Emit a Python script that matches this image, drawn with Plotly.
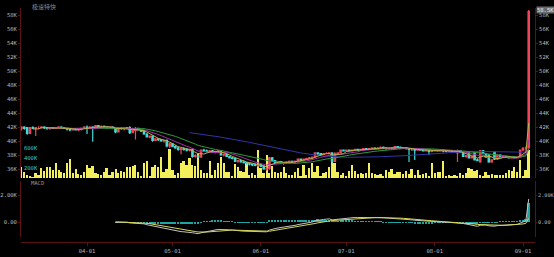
import pandas as pd
import numpy as np
import plotly.graph_objects as go

# ---------------- data (prices in K) ----------------
dates = pd.date_range("2023-03-09", periods=179, freq="D")

open_ = [41.8,42.0,41.9,41.1,41.9,41.8,41.9,41.9,42.0,41.9,
         41.8,41.9,41.8,41.9,42.0,41.9,41.8,41.7,41.6,41.7,
         41.6,41.7,41.8,42.0,41.9,42.0,41.8,42.2,42.0,42.1,
         42.0,41.9,42.0,41.9,41.3,41.9,41.8,41.9,41.9,41.2,
         41.5,41.8,41.6,41.4,41.0,40.6,40.7,40.1,40.3,40.2,
         40.0,40.1,39.3,39.6,39.2,39.0,38.8,38.9,38.8,38.7,
         38.8,37.8,37.9,37.7,38.7,38.6,38.5,38.6,38.4,38.5,
         38.6,38.0,38.1,37.8,37.6,37.5,37.1,37.2,37.0,36.9,
         36.8,36.7,36.6,36.5,36.6,36.4,36.0,36.1,37.6,37.2,
         36.9,37.0,36.8,36.9,37.0,37.1,37.0,37.1,37.4,37.3,
         37.4,37.5,37.6,37.7,38.3,38.2,38.1,38.2,38.2,38.3,
         37.1,38.2,38.3,38.7,38.6,38.7,38.6,38.7,38.8,38.7,
         38.8,38.9,38.8,38.9,39.0,38.9,39.0,39.1,39.0,38.9,
         39.0,38.9,39.2,39.1,39.0,39.0,38.9,38.8,38.8,38.7,
         38.8,38.7,38.6,38.7,38.5,38.6,38.7,38.6,38.7,38.6,
         38.5,38.6,38.4,38.3,38.6,38.4,37.8,38.3,37.6,38.3,
         37.3,37.0,38.6,38.2,38.0,37.0,38.4,37.4,38.0,37.7,
         37.8,37.7,37.6,37.7,37.6,37.7,38.7,39.0,39.0]
high = [42.1,42.1,42.0,42.0,42.1,42.0,42.1,42.1,42.1,42.0,
        42.0,42.0,42.0,42.1,42.1,42.0,41.9,41.8,41.8,41.8,
        41.8,41.9,42.1,42.2,42.1,42.1,42.3,42.3,42.2,42.2,
        42.1,42.1,42.1,42.0,42.0,42.0,42.0,42.0,42.1,41.9,
        42.0,41.9,41.7,41.5,41.1,40.8,40.8,40.4,40.4,40.3,
        40.2,40.2,39.8,39.7,39.4,39.2,39.0,39.1,39.0,38.9,
        38.9,38.1,38.0,38.8,38.9,38.8,38.7,38.7,38.6,38.7,
        38.7,38.2,38.2,37.9,37.7,37.6,37.3,37.3,37.2,37.0,
        36.9,36.8,36.8,36.7,36.7,36.5,36.3,37.7,37.7,37.3,
        37.1,37.1,37.0,37.1,37.2,37.2,37.2,37.5,37.5,37.5,
        37.6,37.7,37.8,38.4,38.4,38.3,38.3,38.4,38.4,38.4,
        38.4,38.4,38.8,38.8,38.8,38.8,38.8,38.9,38.9,38.9,
        39.0,39.0,39.0,39.1,39.1,39.1,39.2,39.2,39.1,39.1,
        39.1,39.3,39.3,39.2,39.1,39.1,39.0,38.9,38.9,38.9,
        38.9,38.8,38.8,38.8,38.7,38.8,38.8,38.8,38.8,38.7,
        38.7,38.7,38.6,38.8,38.7,38.5,38.0,38.4,37.9,38.4,
        37.5,38.7,38.7,38.3,38.1,37.4,38.5,38.1,38.1,37.9,
        37.9,37.8,37.8,37.8,37.8,38.8,39.1,39.2,58.7]
low = [41.5,41.6,40.9,41.0,41.7,40.7,41.7,41.8,41.7,41.6,
       41.6,41.7,41.7,41.8,41.8,41.7,41.5,41.4,41.5,41.5,
       41.4,41.5,41.7,41.0,41.8,39.9,41.7,41.9,41.8,41.9,
       41.8,41.8,41.8,41.1,41.2,41.6,41.5,41.7,41.0,41.1,
       40.2,41.5,41.3,40.9,40.5,40.4,39.9,40.0,40.0,39.9,
       39.8,39.1,39.0,39.1,38.9,38.6,38.1,38.6,38.5,38.5,
       37.6,37.6,37.6,37.6,38.5,38.4,38.3,38.3,38.2,38.3,
       37.9,37.8,37.7,37.5,37.4,37.0,36.9,36.9,36.8,36.6,
       36.5,36.4,36.4,36.3,36.3,35.9,35.8,35.9,37.1,36.8,
       36.7,36.7,36.6,36.7,36.8,36.9,36.8,36.9,37.1,37.2,
       37.3,37.4,37.4,37.6,38.0,37.9,38.0,38.1,38.1,36.9,
       37.0,38.1,38.2,38.5,38.5,38.5,38.5,38.6,38.6,38.6,
       38.7,38.7,38.7,38.8,38.8,38.8,38.9,38.9,38.8,38.8,
       38.8,38.8,39.0,38.9,38.9,38.8,37.0,38.6,37.3,38.6,
       38.6,38.5,38.5,38.0,38.4,38.5,38.5,38.5,38.4,38.4,
       38.4,38.3,38.3,37.0,38.3,37.7,37.6,37.5,37.5,37.2,
       37.1,36.9,38.1,37.6,36.9,36.9,37.3,37.3,37.6,37.6,
       37.6,37.5,37.5,37.5,37.5,37.6,38.6,38.8,38.9]
close = [42.0,41.8,41.1,41.9,41.8,41.9,41.9,42.0,41.9,41.8,
         41.9,41.8,41.9,42.0,41.9,41.8,41.7,41.6,41.7,41.6,
         41.7,41.8,42.0,41.9,42.0,41.8,42.2,42.0,42.1,42.0,
         41.9,42.0,41.9,41.3,41.9,41.8,41.9,41.8,41.2,41.6,
         41.8,41.6,41.4,41.0,40.6,40.7,40.1,40.3,40.2,40.0,
         40.1,39.3,39.6,39.2,39.0,38.8,38.9,38.8,38.7,38.8,
         37.8,37.9,37.7,38.7,38.6,38.5,38.6,38.4,38.5,38.6,
         38.0,38.1,37.8,37.6,37.5,37.1,37.2,37.0,36.9,36.8,
         36.7,36.6,36.5,36.6,36.4,36.0,36.1,37.6,37.2,36.9,
         37.0,36.8,36.9,37.0,37.1,37.0,37.1,37.4,37.3,37.4,
         37.5,37.6,37.7,38.3,38.2,38.1,38.2,38.2,38.3,37.1,
         38.2,38.3,38.7,38.6,38.7,38.6,38.7,38.8,38.7,38.8,
         38.9,38.8,38.9,39.0,38.9,39.0,39.1,39.0,38.9,39.0,
         38.9,39.2,39.1,39.0,39.0,38.9,38.8,38.8,38.7,38.8,
         38.7,38.6,38.7,38.5,38.6,38.7,38.6,38.7,38.6,38.5,
         38.6,38.4,38.5,38.6,38.4,37.8,37.9,37.6,37.8,37.3,
         37.2,38.6,38.2,37.7,37.0,37.3,37.4,38.0,37.7,37.8,
         37.7,37.6,37.7,37.6,37.7,38.7,39.0,39.0,58.5]
volume = [227,127,60,40,20,100,60,193,150,227,
          213,160,307,160,127,93,307,373,107,173,
          80,60,120,260,193,240,93,80,60,127,
          193,60,127,173,93,147,127,213,227,240,
          260,127,27,293,347,27,227,260,213,427,
          127,173,573,160,60,107,293,347,260,393,
          260,240,507,160,107,107,347,60,160,307,
          427,293,127,127,27,280,213,140,127,293,
          60,93,60,560,193,93,460,107,240,127,
          93,127,227,93,60,60,127,193,27,260,
          60,193,293,127,240,27,93,127,227,327,
          293,127,60,107,27,140,260,140,73,93,
          73,107,307,93,73,60,73,27,160,127,
          173,73,127,113,73,140,73,173,60,160,
          60,73,93,40,307,93,113,127,350,27,
          60,40,60,27,93,60,100,193,173,140,
          160,60,40,127,60,80,60,60,60,60,
          93,160,147,227,127,360,27,160,560]

price_ticks = [36, 38, 40, 42, 44, 46, 48, 50, 52, 54, 56, 58]
price_labels = [f"{v}K" for v in price_ticks]
vol_ticks = [0, 200, 400, 600]
vol_labels = ["0.00", "200K", "400K", "600K"]
macd_ticks = [0, 2]
macd_labels = ["0.00", "2.00K"]

# ---------------- indicators ----------------
cs = pd.Series(close, index=dates)
ma5 = cs.rolling(5).mean()
ma10 = cs.rolling(10).mean()
ma20 = cs.rolling(20).mean()
ma60 = cs.rolling(60).mean()
ema12 = cs.ewm(span=12, adjust=False).mean()
ema26 = cs.ewm(span=26, adjust=False).mean()
dif = ema12 - ema26
dea = dif.ewm(span=9, adjust=False).mean()
hist = dif - dea
dif[:33] = np.nan
dea[:33] = np.nan
hist[:33] = np.nan

# ---------------- figure ----------------
RED = "#f0455a"
CYAN = "#3fdcdc"
AX = "#5a1212"
TXT = "#b8b8b8"
FONT = "DejaVu Sans Mono"

fig = go.Figure()
day = 86400000
fig.add_trace(go.Bar(x=dates, y=volume, yaxis="y", xaxis="x",
                     marker=dict(color="#f2ee5c", line=dict(width=0)),
                     width=0.7 * day, hoverinfo="skip"))
fig.add_trace(go.Candlestick(x=dates, open=open_, high=high, low=low, close=close,
                             yaxis="y2", xaxis="x",
                             increasing=dict(line=dict(color=RED, width=1.2), fillcolor=RED),
                             decreasing=dict(line=dict(color=CYAN, width=1.2), fillcolor=CYAN),
                             whiskerwidth=0))
for s, c in [(ma60, "#3434a8"), (ma20, "#2a9a3c"), (ma10, "#a030a8"), (ma5, "#b8b048")]:
    fig.add_trace(go.Scatter(x=dates, y=s, yaxis="y2", xaxis="x", mode="lines",
                             line=dict(color=c, width=1), hoverinfo="skip"))
fig.add_trace(go.Scatter(x=dates, y=close, yaxis="y3", xaxis="x", mode="lines",
                         line=dict(color="rgba(0,0,0,0)", width=0), hoverinfo="skip"))
fig.add_trace(go.Bar(x=dates, y=hist, yaxis="y4", xaxis="x",
                     marker=dict(color="#1fa4a4", line=dict(width=0)),
                     width=0.7 * day, hoverinfo="skip"))
fig.add_trace(go.Scatter(x=dates, y=dif, yaxis="y4", xaxis="x", mode="lines",
                         line=dict(color="#c4c4c4", width=1), hoverinfo="skip"))
fig.add_trace(go.Scatter(x=dates, y=dea, yaxis="y4", xaxis="x", mode="lines",
                         line=dict(color="#d6d65a", width=1), hoverinfo="skip"))
fig.add_trace(go.Scatter(x=dates, y=dif, yaxis="y5", xaxis="x", mode="lines",
                         line=dict(color="rgba(0,0,0,0)", width=0), hoverinfo="skip"))

H = 234.0
price_dom = [(242 - 178) / H, 1.0]
macd_dom = [(242 - 237) / H, (242 - 181) / H]
prange = [58 - (178 - 15) / 7.0, 58 + 7 / 7.0]
mrange = [-15 / 13.5, 41 / 13.5]

tf = dict(family=FONT, size=5.5, color=TXT)
tf_small = dict(family=FONT, size=5.2, color=TXT)
common_y = dict(showgrid=False, zeroline=False, automargin=False)
fig.update_layout(
    width=554, height=257,
    margin=dict(l=21, r=19, t=8, b=15, autoexpand=False),
    paper_bgcolor="#000", plot_bgcolor="#000",
    showlegend=False, bargap=0,
    xaxis=dict(type="date", range=["2023-03-08 20:00", "2023-09-05 05:00"],
               anchor="free", position=0, showline=True, linecolor=AX, linewidth=1,
               ticks="outside", ticklen=3, tickcolor=AX, tickformat="%m-%d",
               dtick="M1", tick0="2023-04-01", tickfont=tf, showgrid=False,
               zeroline=False, automargin=False, rangeslider=dict(visible=False)),
    yaxis=dict(domain=price_dom, range=[0, (178 - 8) * 20], side="left",
               tickvals=vol_ticks, ticktext=vol_labels, ticklabelposition="inside",
               tickfont=dict(family=FONT, size=5.5, color="#3cc8cc"),
               showline=False, ticks="", **common_y),
    yaxis2=dict(domain=price_dom, range=prange, overlaying="y", side="left",
                tickvals=price_ticks, ticktext=price_labels, tickfont=tf,
                showline=True, linecolor=AX, ticks="outside", ticklen=2, tickcolor=AX,
                **common_y),
    yaxis3=dict(domain=price_dom, range=prange, overlaying="y", side="right",
                tickvals=price_ticks, ticktext=price_labels, tickfont=tf,
                showline=True, linecolor=AX, ticks="outside", ticklen=2, tickcolor=AX,
                **common_y),
    yaxis4=dict(domain=macd_dom, range=mrange, side="left",
                tickvals=macd_ticks, ticktext=macd_labels, tickfont=tf,
                showline=True, linecolor=AX, ticks="outside", ticklen=2, tickcolor=AX,
                **common_y),
    yaxis5=dict(domain=macd_dom, range=mrange, overlaying="y4", side="right",
                tickvals=macd_ticks, ticktext=macd_labels, tickfont=tf_small,
                showline=True, linecolor=AX, ticks="outside", ticklen=1, tickcolor=AX,
                **common_y),
    annotations=[
        dict(text="极速特快", xref="paper", yref="paper", x=(30 - 21) / 515.0,
             y=(242 - 6) / H, xanchor="left", yanchor="middle", showarrow=False,
             font=dict(family="Noto Sans CJK SC", size=6, color="#8a8a8a")),
        dict(text="MACD", xref="paper", yref="paper", x=(29 - 21) / 515.0,
             y=(242 - 183) / H, xanchor="left", yanchor="middle", showarrow=False,
             font=dict(family=FONT, size=5.5, color="#9a9a9a")),
        dict(text="58.5K", xref="paper", yref="y2", x=1.0, y=close[-1],
             xanchor="left", yanchor="middle", xshift=1, yshift=2, showarrow=False,
             bgcolor="#6a6a6a", borderpad=0,
             font=dict(family=FONT, size=5.5, color="#eeeeee")),
    ],
)

fig.write_html("out.html")
